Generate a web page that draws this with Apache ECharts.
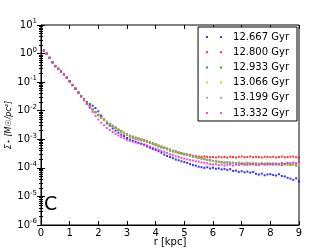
<!DOCTYPE html>
<html><head><meta charset="utf-8">
<script src="https://cdn.jsdelivr.net/npm/echarts@6/dist/echarts.min.js"></script>
<style>html,body{margin:0;padding:0;background:#fff}#c{width:332px;height:249px}</style>
</head><body><div id="c"></div>
<script>
const radius = [0.1,0.2,0.3,0.4,0.5,0.6,0.7,0.8,0.9,1.0,1.1,1.2,1.3,1.4,1.5,1.6,1.7,1.8,1.9,2.0,2.1,2.2,2.3,2.4,2.5,2.6,2.7,2.8,2.9,3.0,3.1,3.2,3.3,3.4,3.5,3.6,3.7,3.8,3.9,4.0,4.1,4.2,4.3,4.4,4.5,4.6,4.7,4.8,4.9,5.0,5.1,5.2,5.3,5.4,5.5,5.6,5.7,5.8,5.9,6.0,6.1,6.2,6.3,6.4,6.5,6.6,6.7,6.8,6.9,7.0,7.1,7.2,7.3,7.4,7.5,7.6,7.7,7.8,7.9,8.0,8.1,8.2,8.3,8.4,8.5,8.6,8.7,8.8,8.9,9.0];

const sig12667 = [1.3,1.0,0.71,0.50,0.37,0.29,0.24,0.19,0.145,0.11,8.0e-2,6.0e-2,4.4e-2,3.3e-2,2.5e-2,2.0e-2,1.7e-2,1.5e-2,1.25e-2,9.5e-3,6.8e-3,4.7e-3,3.6e-3,3.0e-3,2.4e-3,2.0e-3,1.7e-3,1.45e-3,1.3e-3,1.1e-3,9.8e-4,9.0e-4,8.3e-4,7.6e-4,7.0e-4,6.4e-4,5.6e-4,5.1e-4,4.6e-4,4.2e-4,3.8e-4,3.4e-4,2.9e-4,2.6e-4,2.4e-4,2.2e-4,1.95e-4,1.85e-4,1.7e-4,1.6e-4,1.5e-4,1.35e-4,1.25e-4,1.2e-4,1.1e-4,1.05e-4,1.0e-4,1.05e-4,9.5e-5,1.0e-4,9.3e-5,9.6e-5,8.8e-5,9.2e-5,8.5e-5,9.0e-5,7.8e-5,8.0e-5,7.2e-5,7.6e-5,7.0e-5,7.4e-5,6.8e-5,7.2e-5,6.2e-5,5.8e-5,6.3e-5,5.5e-5,5.9e-5,6.0e-5,5.6e-5,5.4e-5,6.0e-5,5.2e-5,5.0e-5,4.5e-5,4.2e-5,3.8e-5,4.3e-5,3.4e-5];

const sig12800 = [1.3,1.0,0.72,0.50,0.37,0.30,0.24,0.19,0.145,0.11,8.0e-2,6.0e-2,4.4e-2,3.3e-2,2.5e-2,1.9e-2,1.45e-2,1.15e-2,9.0e-3,7.2e-3,5.9e-3,4.9e-3,4.0e-3,3.4e-3,2.9e-3,2.5e-3,2.1e-3,1.85e-3,1.6e-3,1.4e-3,1.25e-3,1.15e-3,1.05e-3,9.9e-4,9.2e-4,8.6e-4,8.0e-4,7.4e-4,6.8e-4,6.3e-4,5.7e-4,5.2e-4,4.9e-4,4.5e-4,4.1e-4,3.8e-4,3.6e-4,3.4e-4,3.2e-4,3.0e-4,2.9e-4,2.8e-4,2.65e-4,2.6e-4,2.5e-4,2.45e-4,2.5e-4,2.4e-4,2.35e-4,2.4e-4,2.3e-4,2.45e-4,2.35e-4,2.4e-4,2.3e-4,2.45e-4,2.4e-4,2.3e-4,2.45e-4,2.5e-4,2.35e-4,2.4e-4,2.5e-4,2.35e-4,2.45e-4,2.4e-4,2.3e-4,2.45e-4,2.4e-4,2.35e-4,2.45e-4,2.3e-4,2.4e-4,2.5e-4,2.35e-4,2.4e-4,2.45e-4,2.5e-4,2.35e-4,2.3e-4];

const sig12933 = [1.3,0.98,0.70,0.49,0.36,0.29,0.23,0.19,0.14,0.105,7.8e-2,5.9e-2,4.3e-2,3.2e-2,2.4e-2,1.85e-2,1.4e-2,1.1e-2,8.8e-3,7.0e-3,5.8e-3,4.9e-3,4.1e-3,3.5e-3,3.0e-3,2.6e-3,2.2e-3,1.95e-3,1.7e-3,1.5e-3,1.35e-3,1.25e-3,1.15e-3,1.08e-3,1.0e-3,9.4e-4,8.8e-4,8.1e-4,7.4e-4,6.8e-4,6.1e-4,5.6e-4,5.2e-4,4.8e-4,4.4e-4,4.0e-4,3.8e-4,3.5e-4,3.3e-4,3.1e-4,2.9e-4,2.7e-4,2.5e-4,2.4e-4,2.25e-4,2.15e-4,2.05e-4,1.9e-4,1.85e-4,1.75e-4,1.7e-4,1.6e-4,1.6e-4,1.5e-4,1.55e-4,1.45e-4,1.5e-4,1.4e-4,1.45e-4,1.4e-4,1.35e-4,1.45e-4,1.4e-4,1.35e-4,1.4e-4,1.3e-4,1.4e-4,1.35e-4,1.3e-4,1.4e-4,1.35e-4,1.3e-4,1.35e-4,1.25e-4,1.35e-4,1.3e-4,1.25e-4,1.3e-4,1.2e-4,1.25e-4];

const sig13066 = [1.3,0.99,0.71,0.50,0.36,0.29,0.23,0.185,0.14,0.106,7.9e-2,5.8e-2,4.3e-2,3.2e-2,2.4e-2,1.8e-2,1.4e-2,1.1e-2,8.6e-3,6.9e-3,5.7e-3,4.8e-3,4.0e-3,3.4e-3,2.9e-3,2.5e-3,2.2e-3,1.9e-3,1.65e-3,1.45e-3,1.3e-3,1.2e-3,1.1e-3,1.04e-3,9.7e-4,9.0e-4,8.4e-4,7.7e-4,7.1e-4,6.5e-4,5.9e-4,5.4e-4,5.0e-4,4.6e-4,4.2e-4,3.9e-4,3.6e-4,3.4e-4,3.2e-4,3.0e-4,2.8e-4,2.65e-4,2.5e-4,2.35e-4,2.25e-4,2.1e-4,2.0e-4,1.9e-4,1.8e-4,1.75e-4,1.7e-4,1.65e-4,1.55e-4,1.55e-4,1.5e-4,1.5e-4,1.45e-4,1.45e-4,1.4e-4,1.45e-4,1.4e-4,1.38e-4,1.45e-4,1.4e-4,1.35e-4,1.42e-4,1.38e-4,1.4e-4,1.35e-4,1.3e-4,1.38e-4,1.35e-4,1.3e-4,1.38e-4,1.3e-4,1.35e-4,1.3e-4,1.28e-4,1.32e-4,1.25e-4];

const sig13199 = [1.3,1.0,0.71,0.49,0.36,0.29,0.23,0.19,0.14,0.107,7.9e-2,5.9e-2,4.3e-2,3.2e-2,2.4e-2,1.8e-2,1.4e-2,1.1e-2,8.7e-3,6.9e-3,5.6e-3,4.7e-3,3.9e-3,3.3e-3,2.8e-3,2.4e-3,2.1e-3,1.8e-3,1.6e-3,1.4e-3,1.2e-3,1.15e-3,1.07e-3,1.0e-3,9.3e-4,8.7e-4,8.1e-4,7.4e-4,6.8e-4,6.2e-4,5.6e-4,5.1e-4,4.8e-4,4.4e-4,4.0e-4,3.7e-4,3.5e-4,3.2e-4,3.1e-4,2.9e-4,2.75e-4,2.6e-4,2.45e-4,2.3e-4,2.2e-4,2.1e-4,2.0e-4,1.9e-4,1.8e-4,1.78e-4,1.7e-4,1.66e-4,1.62e-4,1.58e-4,1.55e-4,1.58e-4,1.51e-4,1.48e-4,1.55e-4,1.48e-4,1.45e-4,1.51e-4,1.41e-4,1.48e-4,1.45e-4,1.38e-4,1.48e-4,1.41e-4,1.45e-4,1.38e-4,1.48e-4,1.41e-4,1.35e-4,1.45e-4,1.38e-4,1.48e-4,1.41e-4,1.45e-4,1.38e-4,1.41e-4];

const sig13332 = [1.3,1.0,0.70,0.49,0.36,0.29,0.23,0.185,0.14,0.105,7.8e-2,5.8e-2,4.2e-2,3.1e-2,2.3e-2,1.7e-2,1.25e-2,9.0e-3,6.6e-3,4.9e-3,3.8e-3,3.1e-3,2.5e-3,2.1e-3,1.8e-3,1.55e-3,1.35e-3,1.2e-3,1.08e-3,9.7e-4,8.9e-4,8.3e-4,7.8e-4,7.3e-4,6.9e-4,6.5e-4,6.1e-4,5.6e-4,5.1e-4,4.7e-4,4.3e-4,3.9e-4,3.6e-4,3.3e-4,3.0e-4,2.8e-4,2.55e-4,2.4e-4,2.25e-4,2.1e-4,2.0e-4,1.9e-4,1.8e-4,1.7e-4,1.65e-4,1.55e-4,1.5e-4,1.45e-4,1.35e-4,1.3e-4,1.35e-4,1.25e-4,1.3e-4,1.2e-4,1.25e-4,1.3e-4,1.2e-4,1.3e-4,1.25e-4,1.35e-4,1.3e-4,1.25e-4,1.3e-4,1.35e-4,1.25e-4,1.3e-4,1.35e-4,1.3e-4,1.4e-4,1.35e-4,1.3e-4,1.4e-4,1.35e-4,1.45e-4,1.4e-4,1.5e-4,1.45e-4,1.55e-4,1.5e-4,1.6e-4];

const seriesNames = ['12.667 Gyr','12.800 Gyr','12.933 Gyr','13.066 Gyr','13.199 Gyr','13.332 Gyr'];
const seriesValues = [sig12667, sig12800, sig12933, sig13066, sig13199, sig13332];
const seriesColors = ['#0000ff','#ff0000','#008000','#c8c800','#999999','#dd22dd'];
const xTickMin = 0, xTickMax = 9;
const yMin = 1e-6, yMax = 10;

const chart = echarts.init(document.getElementById('c'), null, {renderer:'canvas'});
const font = 'DejaVu Sans';
const twoDots = 'path://M0,0h2v2h-2z M14,0h2v2h-2z';

const series = seriesNames.map((n,i)=>({
  name:n, type:'scatter', symbol:'rect', symbolSize:2,
  itemStyle:{color:seriesColors[i]},
  data: radius.map((r,j)=>[r, seriesValues[i][j]]),
  animation:false
}));

chart.setOption({
  backgroundColor:'#fff',
  animation:false,
  grid:{left:41, right:33, top:25, bottom:24, show:true, borderColor:'#000', borderWidth:1, containLabel:false, outerBoundsMode:'none'},
  legend:{
    data: seriesNames.map(n=>({name:n, icon:twoDots})),
    orient:'vertical', right:35, top:27,
    itemWidth:16, itemHeight:2, itemGap:5.2,
    borderColor:'#000', borderWidth:1, borderRadius:0,
    padding:[5,8,3,8],
    textStyle:{fontFamily:font, fontSize:10, color:'#000', padding:[0,0,0,6]},
    backgroundColor:'#fff'
  },
  xAxis:[{
    type:'value', min:xTickMin, max:xTickMax, interval:1,
    name:'r [kpc]', nameLocation:'middle', nameGap:12, nameMoveOverlap:false,
    nameTextStyle:{fontFamily:font, fontSize:10, color:'#000', verticalAlign:'top'},
    axisLine:{show:true, lineStyle:{color:'#000'}},
    axisTick:{inside:true, length:4, lineStyle:{color:'#000'}},
    axisLabel:{fontFamily:font, fontSize:10, color:'#000', margin:3},
    splitLine:{show:false}
  },{
    type:'value', position:'top', min:xTickMin, max:xTickMax, interval:1,
    axisLine:{show:false}, axisTick:{inside:true, length:4, lineStyle:{color:'#000'}},
    axisLabel:{show:false}, splitLine:{show:false}
  }],
  yAxis:[{
    type:'log', logBase:10, min:yMin, max:yMax, interval:1,
    name:'Σ⋆ [M☉/pc²]', nameLocation:'middle', nameGap:28, nameMoveOverlap:false,
    nameTextStyle:{fontFamily:font, fontSize:8, color:'#000', fontStyle:'italic'},
    axisLine:{show:true, lineStyle:{color:'#000'}},
    axisTick:{inside:true, length:4, lineStyle:{color:'#000'}},
    minorTick:{show:true, splitNumber:9, length:2, lineStyle:{color:'#000'}},
    axisLabel:{margin:4, color:'#000',
      formatter:function(v){const e=Math.round(Math.log10(v)); return '{b|10}{s|'+e+'}';},
      rich:{b:{fontFamily:font, fontSize:10, color:'#000'}, s:{fontFamily:font, fontSize:7, color:'#000', padding:[0,0,7,0]}}
    },
    splitLine:{show:false}
  },{
    type:'log', logBase:10, min:yMin, max:yMax, interval:1, position:'right',
    axisLine:{show:false}, axisTick:{inside:true, length:4, lineStyle:{color:'#000'}},
    minorTick:{show:true, splitNumber:9, length:2, lineStyle:{color:'#000'}},
    axisLabel:{show:false}, splitLine:{show:false}
  }],
  graphic:[{type:'text', left:44, top:196, style:{text:'C', fontFamily:font, fontSize:19, fill:'#000'}}],
  series: series
});
</script></body></html>
